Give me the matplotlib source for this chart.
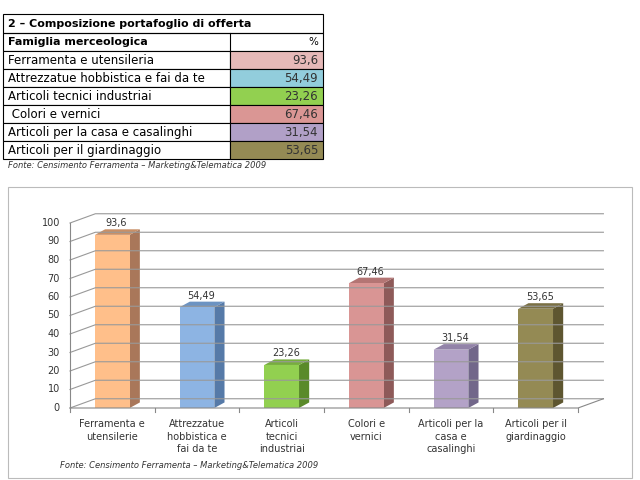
import matplotlib.pyplot as plt
from matplotlib.patches import Polygon, Rectangle

categories = ["Ferramenta e\nutensilerie", "Attrezzatue\nhobbistica e\nfai da te", "Articoli\ntecnici\nindustriai",
              "Colori e\nvernici", "Articoli per la\ncasa e\ncasalinghi", "Articoli per il\ngiardinaggio"]
table_names = ["Ferramenta e utensileria", "Attrezzatue hobbistica e fai da te", "Articoli tecnici industriai",
               " Colori e vernici", "Articoli per la casa e casalinghi", "Articoli per il giardinaggio"]
values = [93.6, 54.49, 23.26, 67.46, 31.54, 53.65]
labels = ["93,6", "54,49", "23,26", "67,46", "31,54", "53,65"]
yticks = list(range(0, 101, 10))

table_colors = ["#E6B9B8", "#92CDDC", "#92D050", "#DA9694", "#B1A0C7", "#948A54"]
front = ["#FFBF8A", "#8DB4E3", "#92D050", "#D99594", "#B3A2C7", "#948A54"]
side = ["#A9775A", "#567AA8", "#5A8A2A", "#8E5A59", "#72678A", "#5E5630"]
top = ["#C98F66", "#6C93C2", "#77AD3E", "#B47574", "#9283A8", "#7A7044"]

fig = plt.figure(figsize=(6.4, 4.8), dpi=100)
W, H = 640, 480

# ---- table ----
tab = fig.add_axes([0, 0, 1, 1])
tab.set_xlim(0, W); tab.set_ylim(H, 0); tab.axis("off")
x0, x1, xv = 3, 323, 230
tab.add_patch(Rectangle((x0, 14), x1 - x0, 19, fill=False, lw=0.8))
tab.text(8, 24, "2 – Composizione portafoglio di offerta", fontsize=8, fontweight="bold", va="center")
tab.add_patch(Rectangle((x0, 33), x1 - x0, 18, fill=False, lw=0.8))
tab.plot([xv, xv], [33, 51], color="black", lw=0.8)
tab.text(8, 42, "Famiglia merceologica", fontsize=8, fontweight="bold", va="center")
tab.text(318, 42, "%", fontsize=7.5, ha="right", va="center")
for i, (n, lab, c) in enumerate(zip(table_names, labels, table_colors)):
    y = 51 + i * 18
    tab.add_patch(Rectangle((x0, y), xv - x0, 18, facecolor="white", edgecolor="black", lw=0.8))
    tab.add_patch(Rectangle((xv, y), x1 - xv, 18, facecolor=c, edgecolor="black", lw=0.8))
    tab.text(8, y + 9.5, n, fontsize=8.5, va="center")
    tab.text(318, y + 9.5, lab, fontsize=8.5, ha="right", va="center", color="#333333")
tab.text(8, 166, "Fonte: Censimento Ferramenta – Marketing&Telematica 2009", fontsize=6, style="italic",
         va="center", color="#333333")

# chart frame
tab.add_patch(Rectangle((8, 187), 624, 291, fill=False, edgecolor="#BBBBBB", lw=0.8))
tab.text(60, 466, "Fonte: Censimento Ferramenta – Marketing&Telematica 2009", fontsize=6, style="italic",
         va="center", color="#333333")

# ---- bar chart ----
ax = fig.add_axes([70 / W, 1 - 408 / H, 508 / W, 185 / H])
ax.set_xlim(-0.5, 5.5); ax.set_ylim(0, 100)
for s in ax.spines.values():
    s.set_visible(False)
ax.set_xticks([]); ax.set_yticks([])
dx, dy = 0.3, 5
for t in yticks:
    ax.plot([-0.5, -0.5 + dx, 5.5 + dx], [t, t + dy, t + dy], color="#999999", lw=0.8, clip_on=False)
    ax.text(-0.62, t, str(t), ha="right", va="center", fontsize=7, color="#333333")
ax.plot([-0.5, -0.5], [0, 100], color="#888888", lw=0.8, clip_on=False)
ax.plot([-0.5, 5.5, 5.5 + dx], [0, 0, dy], color="#888888", lw=0.8, clip_on=False)
for i in range(7):
    ax.plot([i - 0.5, i - 0.5], [0, -2], color="#888888", lw=0.8, clip_on=False)

bw, bdx, bdy = 0.41, 0.12, 3
for i, (v, lab) in enumerate(zip(values, labels)):
    l, r = i - bw / 2, i + bw / 2
    ax.add_patch(Polygon([(r, 0), (r + bdx, bdy), (r + bdx, v + bdy), (r, v)], closed=True,
                         facecolor=side[i], edgecolor="none", clip_on=False))
    ax.add_patch(Polygon([(l, v), (l + bdx, v + bdy), (r + bdx, v + bdy), (r, v)], closed=True,
                         facecolor=top[i], edgecolor="none", clip_on=False))
    ax.add_patch(Rectangle((l, 0), bw, v, facecolor=front[i], edgecolor="none", clip_on=False))
    ax.text(i + 0.05, v + bdy + 0.5, lab, ha="center", va="bottom", fontsize=7, color="#333333")
    ax.text(i, -6, categories[i], ha="center", va="top", fontsize=7, color="#333333", linespacing=1.3)

fig.savefig("out.png", dpi=100)
